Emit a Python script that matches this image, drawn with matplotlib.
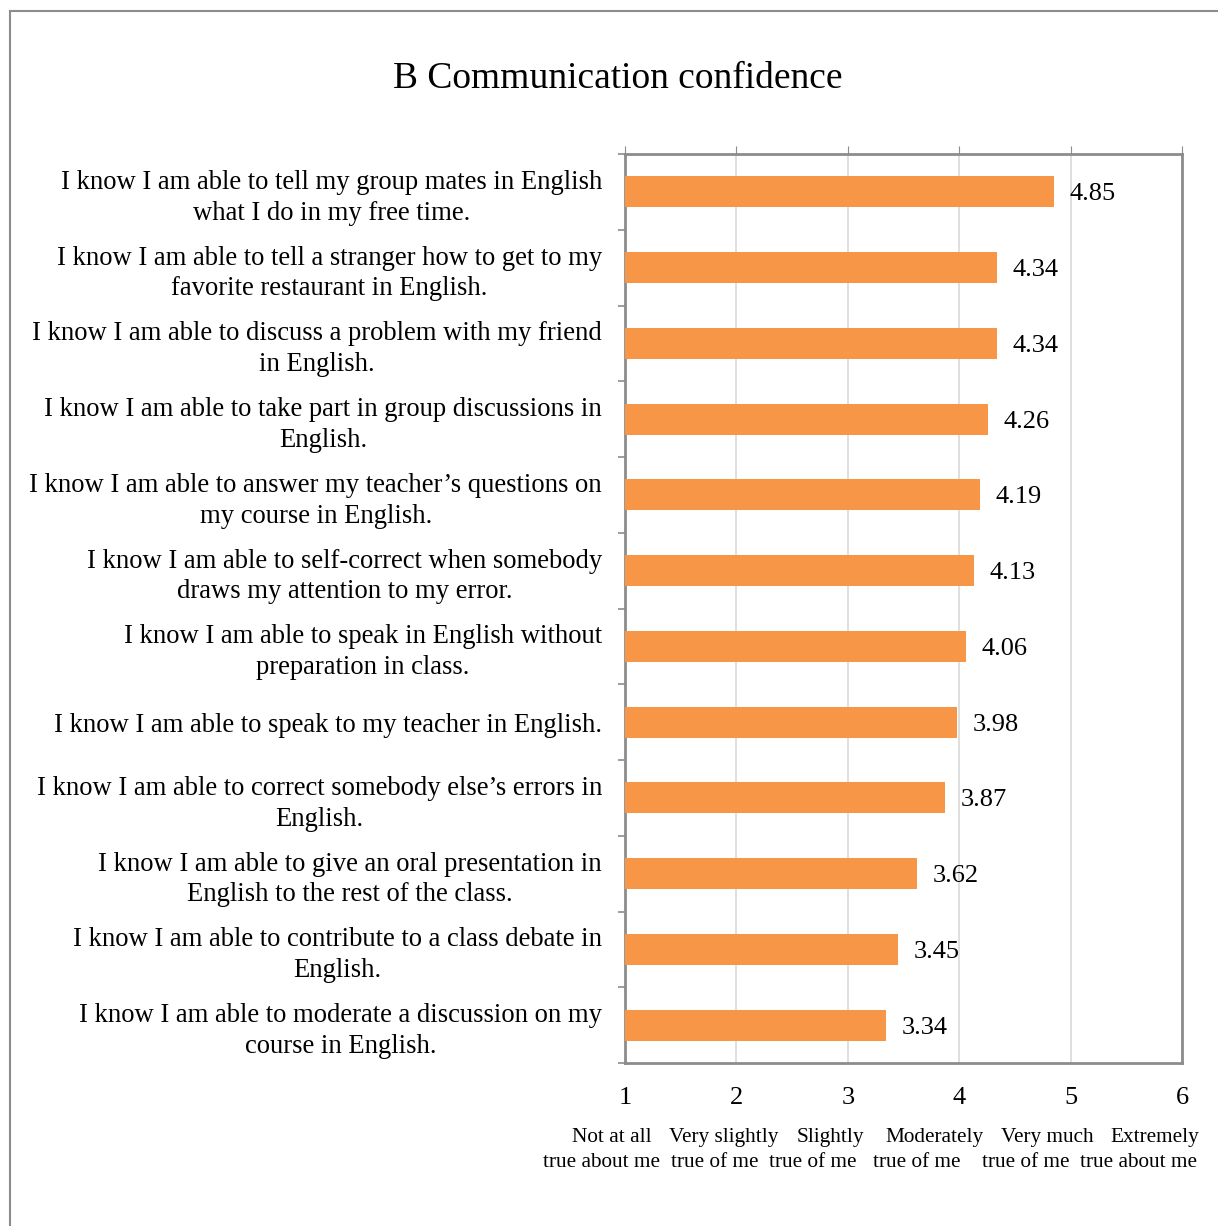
import matplotlib
matplotlib.use("Agg")
import matplotlib.pyplot as plt
from matplotlib.patches import Rectangle
import numpy as np

plt.rcParams['font.family'] = ['Liberation Serif', 'DejaVu Serif']

# data (top to bottom as shown)
items = [
    "I know I am able to tell my group mates in English\nwhat I do in my free time.",
    "I know I am able to tell a stranger how to get to my\nfavorite restaurant in English.",
    "I know I am able to discuss a problem with my friend\nin English.",
    "I know I am able to take part in group discussions in\nEnglish.",
    "I know I am able to answer my teacher\u2019s questions on\nmy course in English.",
    "I know I am able to self-correct when somebody\ndraws my attention to my error.",
    "I know I am able to speak in English without\npreparation in class.",
    "I know I am able to speak to my teacher in English.",
    "I know I am able to correct somebody else\u2019s errors in\nEnglish.",
    "I know I am able to give an oral presentation in\nEnglish to the rest of the class.",
    "I know I am able to contribute to a class debate in\nEnglish.",
    "I know I am able to moderate a discussion on my\ncourse in English.",
]
scores = [4.85, 4.34, 4.34, 4.26, 4.19, 4.13, 4.06, 3.98, 3.87, 3.62, 3.45, 3.34]
scale_ticks = [1, 2, 3, 4, 5, 6]
scale_names = [
    "Not at all\ntrue about me",
    "Very slightly\ntrue of me",
    "Slightly\ntrue of me",
    "Moderately\ntrue of me",
    "Very much\ntrue of me",
    "Extremely\ntrue about me",
]

W, H = 1218, 1226
fig = plt.figure(figsize=(W / 100, H / 100), dpi=100)
ax = fig.add_axes([625 / W, 1 - 1063 / H, (1182 - 625) / W, (1063 - 154) / H])

frame_col = '#8c8c8c'
bar_col = '#f79646'

y = np.arange(len(items))
ax.barh(y, np.array(scores) - 1, left=1, height=0.41, color=bar_col, zorder=3)
for yi, v in zip(y, scores):
    ax.text(v + 0.14, yi, f"{v:.2f}", va='center_baseline', ha='left', fontsize=19, zorder=4)

ax.set_xlim(1, 6)
ax.set_ylim(len(items) - 0.5, -0.5)

# gridlines
ax.set_xticks(scale_ticks)
ax.grid(axis='x', color='#d9d9d9', lw=1.2, zorder=0)
ax.tick_params(axis='x', which='both', bottom=False, top=True, labelbottom=True,
               labeltop=False, direction='out', length=6, color=frame_col,
               labelsize=19, pad=11)

# category labels + boundary ticks
ax.set_yticks(y)
ax.set_yticklabels(items, fontsize=19.2)
for lab in ax.get_yticklabels():
    lab.set_multialignment('center')
    lab.set_linespacing(1.3)
ax.set_yticks(np.arange(len(items) + 1) - 0.5, minor=True)
ax.tick_params(axis='y', which='major', length=0, pad=16.5)
ax.tick_params(axis='y', which='minor', length=5, color=frame_col, width=1.2)

for s in ax.spines.values():
    s.set_color(frame_col)
    s.set_linewidth(2)

# scale descriptions under the numbers (two lines placed separately)
top_x = [612, 724, 830, 934.5, 1047, 1155]
bot_x = [601.5, 714.5, 813, 916.5, 1025.5, 1138]
for xt, xb, txt in zip(top_x, bot_x, scale_names):
    l1, l2 = txt.split("\n")
    fig.text(xt / W, 1 - 1135 / H, l1, ha='center', va='center_baseline', fontsize=15.3)
    fig.text(xb / W, 1 - 1160 / H, l2, ha='center', va='center_baseline', fontsize=15.3)

fig.text(618 / W, 1 - 75 / H, "B Communication confidence", ha='center',
         va='center_baseline', fontsize=27)

# outer chart border
fig.patches.append(Rectangle((10 / W, -0.1), 1.2, 1 - 11 / H + 0.1, transform=fig.transFigure,
                             fill=False, edgecolor=frame_col, lw=1.5))

fig.savefig('out.png', dpi=100)
